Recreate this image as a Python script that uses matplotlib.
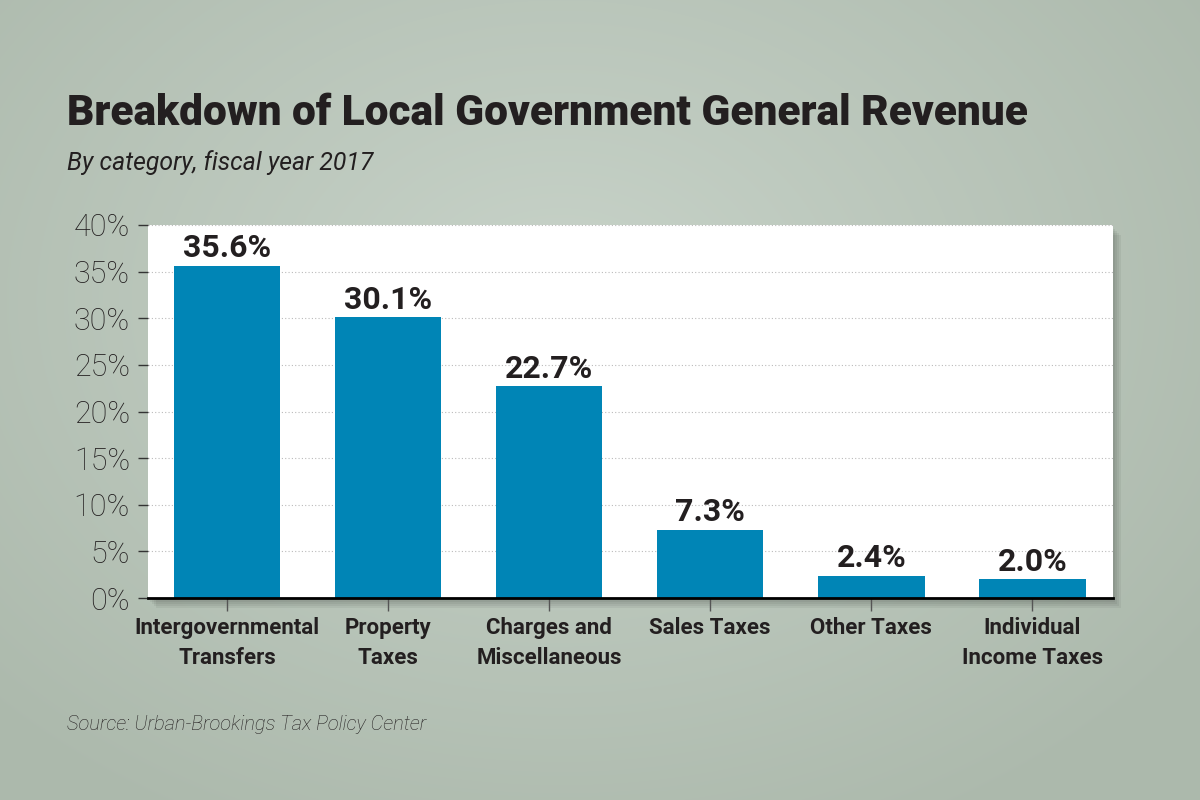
import numpy as np
import matplotlib.pyplot as plt
from matplotlib.patches import Rectangle

categories = ['Intergovernmental\nTransfers', 'Property\nTaxes', 'Charges and\nMiscellaneous',
              'Sales Taxes', 'Other Taxes', 'Individual\nIncome Taxes']
shares = [35.6, 30.1, 22.7, 7.3, 2.4, 2.0]
yticks = [0, 5, 10, 15, 20, 25, 30, 35, 40]

bar_color = '#0085b6'
text_color = '#231f20'

fig = plt.figure(figsize=(12, 8), dpi=100)

# radial gradient background
bg = fig.add_axes([0, 0, 1, 1], zorder=-2)
yy, xx = np.mgrid[0:800, 0:1200]
r = np.sqrt(((xx - 560) / 800.0) ** 2 + ((yy - 300) / 600.0) ** 2)
r = np.clip(r, 0, 1)
c0 = np.array([200, 211, 201]) / 255.0
c1 = np.array([172, 185, 172]) / 255.0
img = c0[None, None, :] * (1 - r[..., None]) + c1[None, None, :] * r[..., None]
bg.imshow(img, aspect='auto', extent=[0, 1, 0, 1])
bg.axis('off')

left, bottom, width, height = 148 / 1200, 202 / 800, 965 / 1200, 373 / 800

# soft shadow behind the plot area
for i in range(5):
    d = (i + 1) * 2
    fig.patches.append(Rectangle((left + d / 1200 - 2 / 1200, bottom - d / 800),
                                 width, height, transform=fig.transFigure,
                                 facecolor='black', alpha=0.05, edgecolor='none', zorder=-1))

ax = fig.add_axes([left, bottom, width, height])
ax.set_facecolor('white')
x = np.arange(len(categories))
ax.bar(x, shares, width=0.66, color=bar_color, zorder=3)

for xi, v in zip(x, shares):
    ax.text(xi, v + 0.3, f'{v:.1f}%', ha='center', va='bottom', fontsize=23,
            fontweight='bold', family='Roboto', color=text_color, zorder=4)

ax.set_xlim(-0.49, 5.5)
ax.set_ylim(0, 40)
ax.set_yticks(yticks)
ax.set_yticklabels([f'{t}%' for t in yticks], family='Roboto', fontsize=22,
                   fontweight='light', color=text_color)
ax.set_xticks(x)
ax.set_xticklabels(categories, family='Roboto', fontsize=16, fontweight='bold',
                   color=text_color, linespacing=1.45)
ax.tick_params(axis='y', length=7, width=1, color='#333333', pad=6)
ax.tick_params(axis='x', length=9, width=1, color='#555555', pad=5)
ax.yaxis.grid(True, linestyle=(0, (1, 2)), color='#bbbbbb', linewidth=0.8, zorder=0)
ax.set_axisbelow(True)
for s in ['top', 'right', 'left']:
    ax.spines[s].set_visible(False)
ax.spines['bottom'].set_linewidth(2)
ax.spines['bottom'].set_color('black')
ax.spines['bottom'].set_zorder(5)

fig.text(67 / 1200, 1 - 125 / 800, 'Breakdown of Local Government General Revenue',
         family='Roboto', fontweight='black', fontsize=30.5, color=text_color, va='baseline')
fig.text(67 / 1200, 1 - 170 / 800, 'By category, fiscal year 2017', family='Roboto',
         style='italic', fontsize=17.8, color=text_color, va='baseline')
fig.text(67 / 1200, 1 - 730 / 800, 'Source: Urban-Brookings Tax Policy Center', family='Roboto',
         style='italic', fontweight='light', fontsize=14.5, color=text_color, va='baseline')

fig.savefig('out.png', dpi=100)
